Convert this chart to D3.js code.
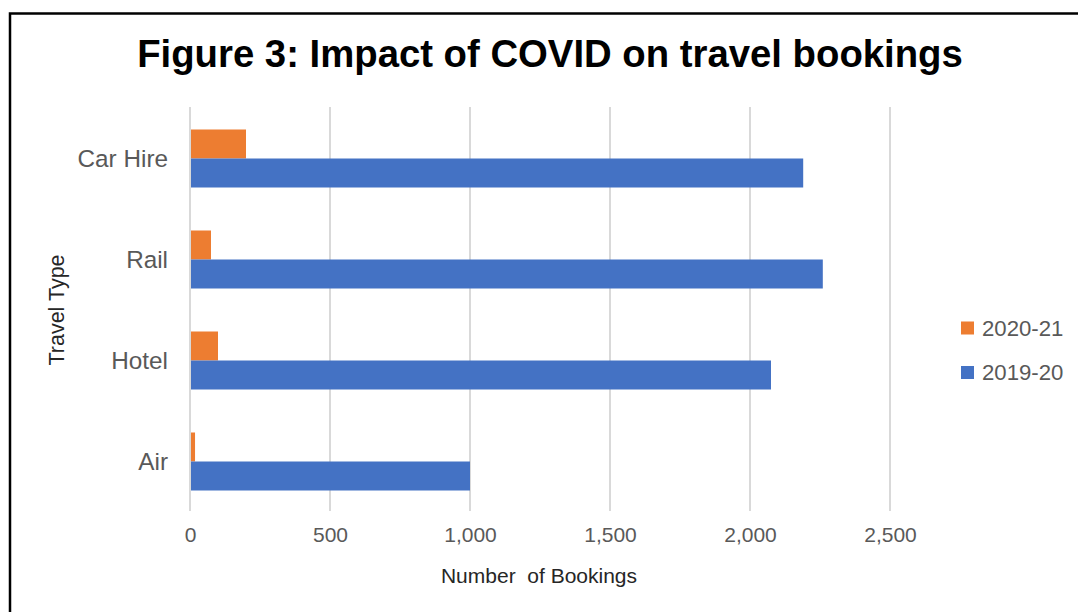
<!DOCTYPE html>
<html>
<head>
<meta charset="utf-8">
<script src="https://cdn.jsdelivr.net/npm/d3@7"></script>
<style>
  html, body { margin: 0; padding: 0; background: #fff; }
  svg { display: block; font-family: "Liberation Sans", Arial, sans-serif; }
</style>
</head>
<body>
<svg id="chart" width="1078" height="612"></svg>
<script>
const categories = ["Car Hire", "Rail", "Hotel", "Air"];
const seriesNames = ["2020-21", "2019-20"];
const values2020_21 = [200, 75, 100, 18];
const values2019_20 = [2190, 2260, 2075, 1000];
const xTicks = [0, 500, 1000, 1500, 2000, 2500];
const colors = ["#ED7D31", "#4472C4"];

const svg = d3.select("#chart");

// frame
svg.append("rect")
  .attr("x", 10).attr("y", 13.5)
  .attr("width", 1100).attr("height", 700)
  .attr("fill", "#fff").attr("stroke", "#000").attr("stroke-width", 2.5);

// title
svg.append("text")
  .attr("x", 550).attr("y", 67)
  .attr("text-anchor", "middle")
  .attr("font-weight", "bold")
  .attr("font-size", 38.3)
  .attr("fill", "#000")
  .text("Figure 3: Impact of COVID on travel bookings");

const x = d3.scaleLinear().domain([0, 2500]).range([190, 890]);
const y = d3.scaleBand().domain(categories).range([108, 512]);
const groupH = 58;
const yS = d3.scaleBand().domain(seriesNames).range([0, groupH]);

// gridlines
svg.append("g").selectAll("line").data(xTicks).join("line")
  .attr("x1", d => x(d)).attr("x2", d => x(d))
  .attr("y1", 107).attr("y2", 511)
  .attr("stroke", "#d9d9d9").attr("stroke-width", 2);

// bars
const data = categories.map((c, i) => ({ cat: c, vals: [values2020_21[i], values2019_20[i]] }));
const groups = svg.append("g").selectAll("g").data(data).join("g")
  .attr("transform", d => `translate(0,${y(d.cat) + (y.bandwidth() - groupH) / 2})`);
groups.selectAll("rect").data(d => d.vals.map((v, j) => ({ name: seriesNames[j], v, j }))).join("rect")
  .attr("x", x(0) + 1)
  .attr("y", d => yS(d.name))
  .attr("width", d => x(d.v) - x(0) - 1)
  .attr("height", yS.bandwidth())
  .attr("fill", d => colors[d.j]);

// x axis tick labels
const xAxis = d3.axisBottom(x).tickValues(xTicks).tickSize(0).tickPadding(0)
  .tickFormat(d3.format(","));
const gx = svg.append("g").attr("transform", "translate(0,527)").call(xAxis);
gx.select(".domain").remove();
gx.selectAll("text")
  .attr("font-family", "'Liberation Sans', Arial, sans-serif")
  .attr("font-size", 21).attr("fill", "#595959").attr("dy", "0.71em");

// y axis category labels
const yAxis = d3.axisLeft(y).tickSize(0).tickPadding(0);
const gy = svg.append("g").attr("transform", "translate(168,0)").call(yAxis);
gy.select(".domain").remove();
gy.selectAll("text")
  .attr("font-family", "'Liberation Sans', Arial, sans-serif")
  .attr("font-size", 24.3).attr("fill", "#595959").attr("dy", "0.35em");

// axis titles
svg.append("text")
  .attr("x", 539).attr("y", 583)
  .attr("text-anchor", "middle")
  .attr("font-size", 21).attr("fill", "#262626")
  .attr("xml:space", "preserve")
  .text("Number  of Bookings");

svg.append("text")
  .attr("transform", "translate(64,310) rotate(-90)")
  .attr("text-anchor", "middle")
  .attr("font-size", 21.5).attr("fill", "#262626")
  .text("Travel Type");

// legend
const legend = svg.append("g").selectAll("g").data(seriesNames).join("g")
  .attr("transform", (d, i) => `translate(961,${321.5 + i * 44.5})`);
legend.append("rect").attr("width", 13).attr("height", 13)
  .attr("fill", (d, i) => colors[i]);
legend.append("text").attr("x", 21).attr("y", 6.5).attr("dy", "0.35em")
  .attr("font-size", 22.2).attr("fill", "#595959")
  .text(d => d);
</script>
</body>
</html>
